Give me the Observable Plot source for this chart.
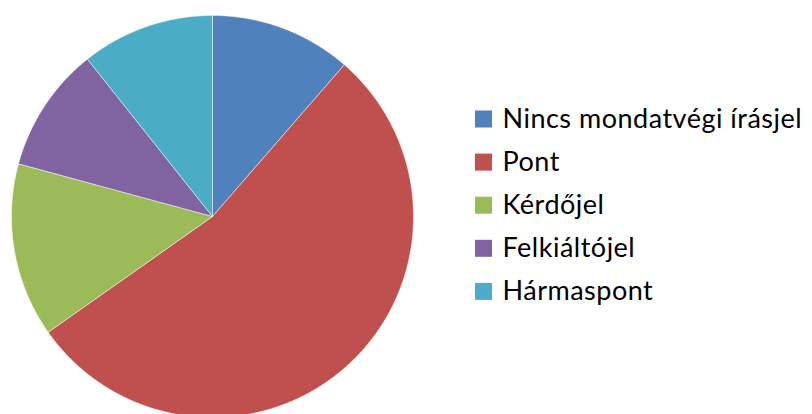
<!DOCTYPE html>
<html>
<head>
<meta charset="utf-8">
<script src="https://cdn.jsdelivr.net/npm/d3@7"></script>
<script src="https://cdn.jsdelivr.net/npm/@observablehq/plot@0.6"></script>
<style>
  html, body { margin: 0; padding: 0; background: #fff; }
  #chart svg { display: block; }
  #chart text { letter-spacing: 0.5px; }
</style>
</head>
<body>
<div id="chart"></div>
<script>
const categories = ["Nincs mondatvégi írásjel", "Pont", "Kérdőjel", "Felkiáltójel", "Hármaspont"];
const values = [11.4, 53.9, 14.0, 10.1, 10.7];
const colors = ["#4F81BD", "#C0504D", "#9BBB59", "#8064A2", "#4BACC6"];

const W = 812, H = 414;
const cx = 212, cy = 216, R = 201;

const arcs = d3.pie().sort(null).value(d => d.value)(categories.map((c, i) => ({cat: c, value: values[i]})));
const slicePts = [];
for (const a of arcs) {
  const cat = a.data.cat;
  slicePts.push({cat, x: cx, y: cy});
  const n = Math.max(2, Math.ceil((a.endAngle - a.startAngle) / 0.005));
  for (let k = 0; k <= n; k++) {
    const t = a.startAngle + (a.endAngle - a.startAngle) * k / n;
    slicePts.push({cat, x: cx + R * Math.sin(t), y: cy - R * Math.cos(t)});
  }
  slicePts.push({cat, x: cx, y: cy});
}

const legend = categories.map((c, i) => ({cat: c, i}));
const legX = 483, legTextX = 502, legY0 = 118.5, legStep = 43.1;

const plot = Plot.plot({
  width: W,
  height: H,
  margin: 0,
  x: {domain: [0, W], axis: null},
  y: {domain: [0, H], range: [0, H], axis: null},
  color: {domain: categories, range: colors},
  style: {fontFamily: "Lato, sans-serif"},
  marks: [
    Plot.line(slicePts, {x: "x", y: "y", z: "cat", fill: "cat", stroke: "#ffffff", strokeOpacity: 0.6, strokeWidth: 0.8, curve: "linear"}),
    Plot.dot(legend, {x: () => legX, y: d => legY0 + d.i * legStep, symbol: "square", r: 9.6, fill: "cat", stroke: null}),
    Plot.text(legend, {x: () => legTextX, y: d => legY0 + d.i * legStep, text: "cat", textAnchor: "start", fontSize: 27, fill: "#000", dy: 0})
  ]
});
document.getElementById("chart").appendChild(plot);
</script>
</body>
</html>
